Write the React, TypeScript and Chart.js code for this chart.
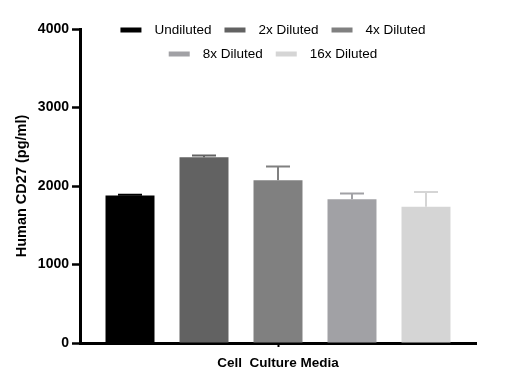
import React, { useEffect, useRef } from 'react';
import { Chart, registerables } from 'chart.js';

Chart.register(...registerables);

const categories = ['Cell  Culture Media'];
const seriesNames = ['Undiluted', '2x Diluted', '4x Diluted', '8x Diluted', '16x Diluted'];
const seriesMeans = [1880, 2366, 2073, 1830, 1737];
const seriesErrors = [10, 22, 175, 73, 188];
const seriesColors = ['#000000', '#626262', '#808080', '#a1a1a5', '#d5d5d5'];
const yTickValues = [0, 1000, 2000, 3000, 4000];
const legendRows = [[0, 1, 2], [3, 4]];

const FONT = 'Arial, "Liberation Sans", sans-serif';

const errorBarPlugin = {
  id: 'errorBars',
  afterDatasetsDraw(chart: any) {
    const ctx = chart.ctx;
    const y = chart.scales.y;
    chart.data.datasets.forEach((ds: any, i: number) => {
      const meta = chart.getDatasetMeta(i);
      meta.data.forEach((bar: any, j: number) => {
        const v = ds.data[j];
        const e = ds.errors[j];
        const yTop = y.getPixelForValue(v + e);
        const yBar = y.getPixelForValue(v);
        const x = bar.x;
        ctx.save();
        ctx.strokeStyle = ds.backgroundColor;
        ctx.lineWidth = 2;
        ctx.beginPath();
        ctx.moveTo(x, yBar);
        ctx.lineTo(x, yTop);
        ctx.moveTo(x - 12, yTop);
        ctx.lineTo(x + 12, yTop);
        ctx.stroke();
        ctx.restore();
      });
    });
  },
};

const legendPlugin = {
  id: 'customLegend',
  afterDraw(chart: any) {
    const ctx = chart.ctx;
    ctx.save();
    ctx.font = `13.5px ${FONT}`;
    ctx.textBaseline = 'middle';
    ctx.textAlign = 'left';
    const rowYs = [22, 46];
    const cx = 265;
    legendRows.forEach((row, r) => {
      const widths = row.map((i) => 21 + 13 + ctx.measureText(seriesNames[i]).width);
      const total = widths.reduce((a, b) => a + b, 0) + 13 * (row.length - 1);
      let x = cx - total / 2;
      row.forEach((i, k) => {
        ctx.fillStyle = seriesColors[i];
        ctx.fillRect(x, rowYs[r] - 2.5, 21, 5);
        ctx.fillStyle = '#000';
        ctx.fillText(seriesNames[i], x + 34, rowYs[r]);
        x += widths[k] + 13;
      });
    });
    ctx.restore();
  },
};

export default function App() {
  const ref = useRef<HTMLCanvasElement | null>(null);

  useEffect(() => {
    let chart: Chart | null = null;
    let cancelled = false;
    const build = () => {
      if (cancelled || !ref.current) return;
      chart = new Chart(ref.current, {
        type: 'bar',
        data: {
          labels: categories,
          datasets: seriesNames.map((name, i) => ({
            label: name,
            data: [seriesMeans[i]],
            errors: [seriesErrors[i]],
            backgroundColor: seriesColors[i],
            borderWidth: 0,
            categoryPercentage: 0.9343,
            barPercentage: 0.662,
          })) as any,
        },
        options: {
          responsive: false,
          animation: false,
          layout: { padding: { top: 21, right: 36, bottom: 0, left: 0 } },
          plugins: { legend: { display: false }, tooltip: { enabled: false } },
          scales: {
            x: {
              type: 'category',
              grid: {
                display: true,
                drawOnChartArea: false,
                offset: false,
                tickLength: 4,
                tickWidth: 2,
                tickColor: '#000',
              },
              border: { display: true, width: 3, color: '#000' },
              ticks: { color: '#000', padding: 8, font: { family: FONT, size: 13.5, weight: 'bold' } },
              afterFit: (s: any) => {
                s.height = 38;
              },
            },
            y: {
              min: 0,
              max: 4000,
              afterBuildTicks: (s: any) => {
                s.ticks = yTickValues.map((v) => ({ value: v }));
              },
              grid: {
                display: true,
                drawOnChartArea: false,
                tickLength: 8,
                tickWidth: 2.5,
                tickColor: '#000',
              },
              border: { display: true, width: 3, color: '#000' },
              ticks: {
                color: '#000',
                padding: 3,
                font: { family: FONT, size: 14, weight: 'bold' },
                callback: (v: any) => String(v),
              },
              title: {
                display: true,
                text: 'Human CD27 (pg/ml)',
                color: '#000',
                font: { family: FONT, size: 14.5, weight: 'bold' },
                padding: { top: 5.3, bottom: 0 },
              },
              afterFit: (s: any) => {
                s.width = 72;
              },
            },
          },
        } as any,
        plugins: [errorBarPlugin, legendPlugin],
      });
    };
    const fonts: any = (document as any).fonts;
    if (fonts && fonts.load) {
      Promise.all([
        fonts.load('13px Arial'),
        fonts.load('bold 13px Arial'),
        fonts.load('13px "Liberation Sans"'),
        fonts.load('bold 13px "Liberation Sans"'),
      ])
        .catch(() => null)
        .then(build);
    } else {
      build();
    }
    return () => {
      cancelled = true;
      if (chart) chart.destroy();
    };
  }, []);

  return (
    <div style={{ width: 504, height: 373 }}>
      <canvas ref={ref} width={504} height={373} style={{ display: 'block' }} />
    </div>
  );
}
